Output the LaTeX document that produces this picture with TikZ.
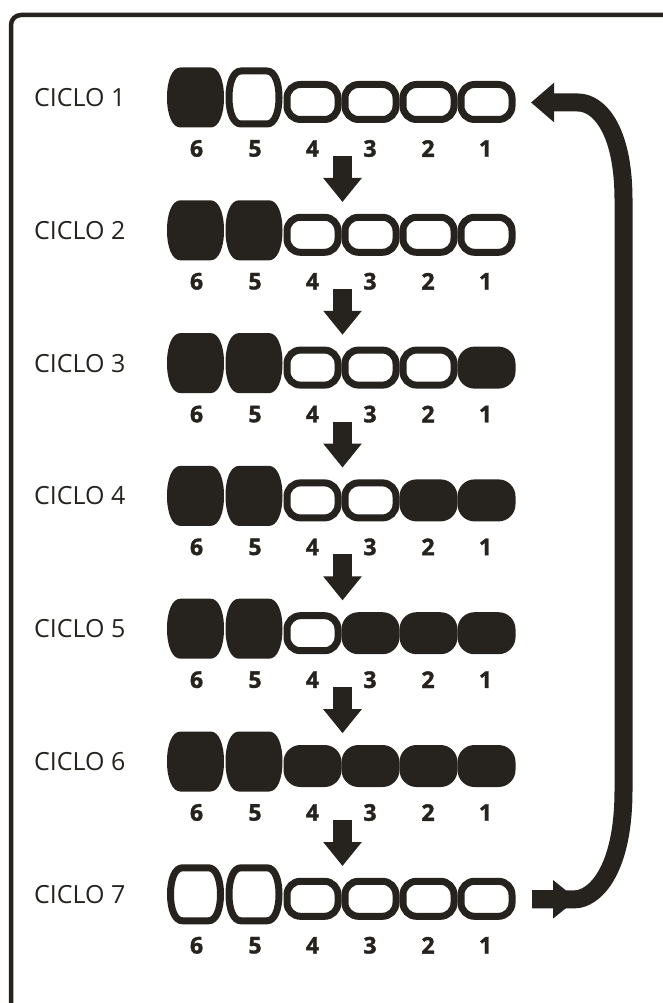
\documentclass[tikz,border=0pt]{standalone}
\usepackage{fontspec}
\setmainfont{Open Sans}
\newfontfamily\numfont[BoldFeatures={FakeBold=1.6}]{Open Sans}
\usetikzlibrary{arrows.meta}
\definecolor{ink}{RGB}{38,35,31}
\newcommand\barrelpath[3]{(-#3,-#2) -- (#3,-#2) .. controls ({#3+0.62*(#1-#3)},-#2) and (#1,{-0.58*#2}) .. (#1,0) .. controls (#1,{0.58*#2}) and ({#3+0.62*(#1-#3)},#2) .. (#3,#2) -- (-#3,#2) .. controls ({-#3-0.62*(#1-#3)},#2) and (-#1,{0.58*#2}) .. (-#1,0) .. controls (-#1,{-0.58*#2}) and ({-#3-0.62*(#1-#3)},-#2) .. (-#3,-#2) -- cycle}
% big bead filled / open ; small bead filled / open
\newcommand\BF[2]{\fill[ink,shift={(#1,#2)}] \barrelpath{28.5}{30}{15};}
\newcommand\BO[2]{\draw[ink,line width=7,shift={(#1,#2)}] \barrelpath{25}{26.5}{13};}
\newcommand\SF[2]{\fill[ink,rounded corners=17,shift={(#1,{#2+4.5})}] (-29,-21) rectangle (29,21);}
\newcommand\SO[2]{\draw[ink,line width=7,rounded corners=13.5,shift={(#1,{#2+4.5})}] (-25.5,-17.5) rectangle (25.5,17.5);}
\newcommand\beadrow[7]{%
  \pgfmathsetmacro\ry{97.5+(#1-1)*132.8}%
  \csname S#2\endcsname{486.5}{\ry}%
  \csname S#3\endcsname{428.5}{\ry}%
  \csname S#4\endcsname{370.5}{\ry}%
  \csname S#5\endcsname{312.5}{\ry}%
  \csname B#6\endcsname{254}{\ry}%
  \csname B#7\endcsname{195.5}{\ry}%
}
\tikzset{
  ciclo/.style={anchor=west,inner sep=0pt,text=ink,font=\fontsize{25}{25}\selectfont},
  num/.style={inner sep=0pt,text=ink,font=\numfont\fontsize{23}{23}\selectfont\bfseries},
  downarrow/.style={ink,line width=19,-{Triangle[width=37pt,length=24pt]}},
  looparrow/.style={ink,line width=18},
  frame/.style={ink,line width=4.5,rounded corners=10},
}
\begin{document}
\begin{tikzpicture}[x=1pt,y=-1pt]
\useasboundingbox (0,0) rectangle (663,1003);
\fill[white] (0,0) rectangle (663,1003);
\draw[frame] (11,1003) -- (11,15) -- (663,15);
\foreach \i in {1,...,7}{
  \pgfmathsetmacro\ry{97.5+(\i-1)*132.8}
  \node[ciclo] (c\i) at (34,\ry) {CICLO \i};
  \foreach \k/\x in {6/196.5,5/255,4/312.5,3/370,2/428,1/485.5}{
    \node[num] (n\i-\k) at (\x,{\ry+51}) {\k};
  }
  \coordinate (top\i) at (342.5,{\ry+58.5});
  \coordinate (tip\i) at (342.5,{\ry+104.5});
}
% bead states: row, then bead 1..6 (F filled, O open)
\beadrow{1}{O}{O}{O}{O}{O}{F}
\beadrow{2}{O}{O}{O}{O}{F}{F}
\beadrow{3}{F}{O}{O}{O}{F}{F}
\beadrow{4}{F}{F}{O}{O}{F}{F}
\beadrow{5}{F}{F}{F}{O}{F}{F}
\beadrow{6}{F}{F}{F}{F}{F}{F}
\beadrow{7}{O}{O}{O}{O}{O}{O}
\foreach \i in {1,...,6}{
  \draw[downarrow] (top\i) -- (tip\i);
}
% loop arrow
\coordinate (ls) at (532,899.3);
\coordinate (lh) at (577,899.3);
\coordinate (le) at (531,102.5);
\draw[looparrow,-{Triangle[width=38pt,length=23pt]}] (ls) -- (575,899.3) .. controls (592,899.3) and (623.5,875) .. (623.5,790) -- (623.5,200) .. controls (623.5,128) and (598,102.5) .. (578,102.5) -- (le);
\draw[looparrow,-{Triangle[width=37pt,length=24pt]}] (ls) -- (lh);
\end{tikzpicture}
\end{document}
